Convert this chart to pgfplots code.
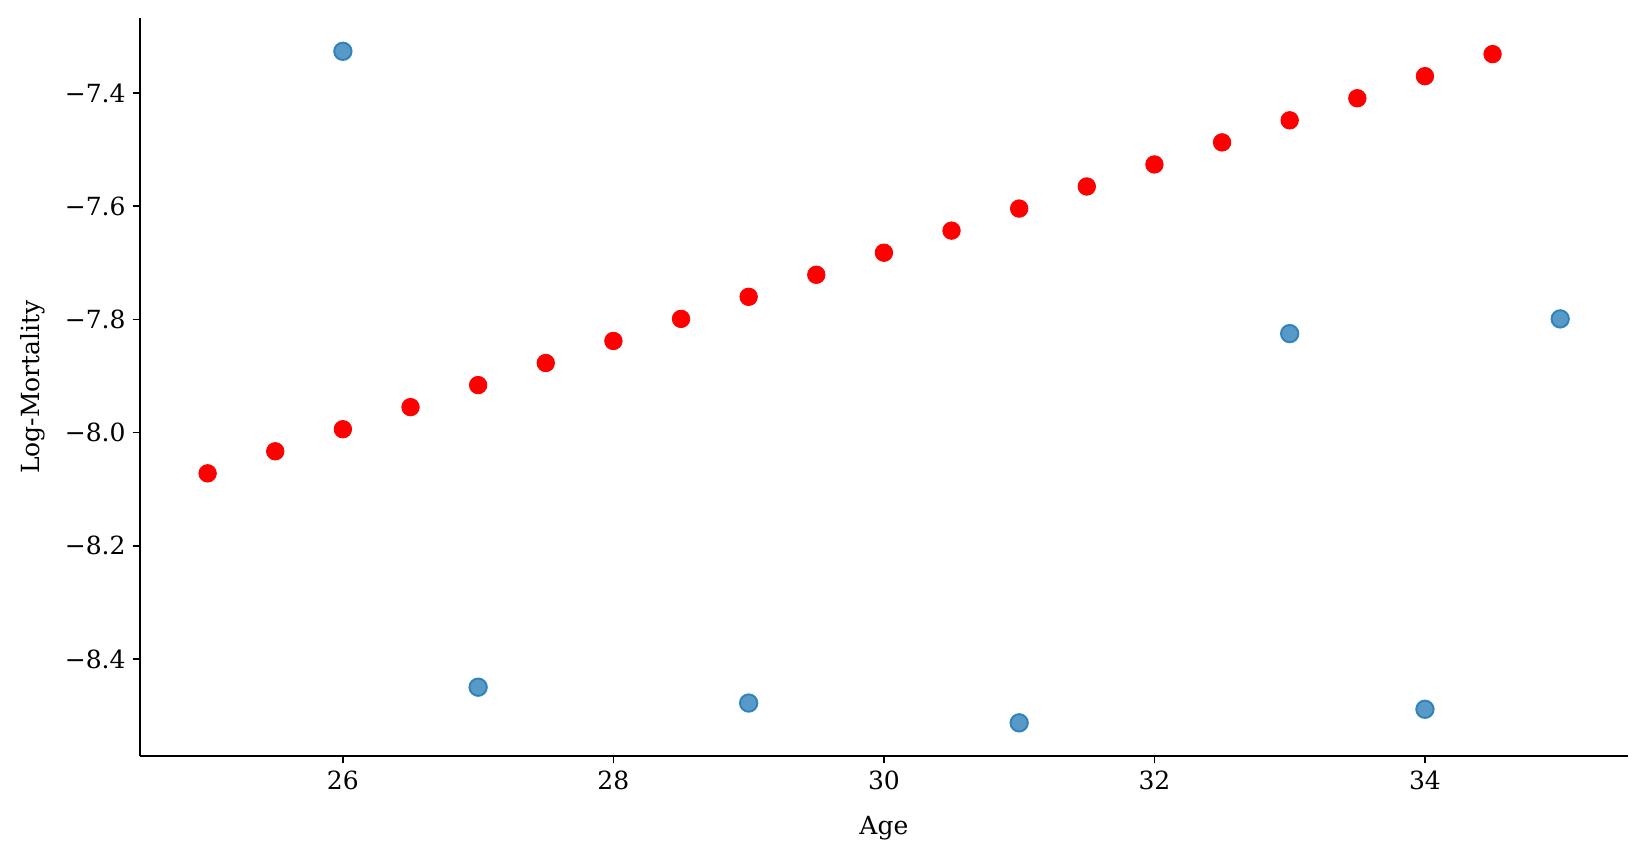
\documentclass[border=0pt]{standalone}
\usepackage{pgfplots}
\pgfplotsset{compat=1.18}
\usepackage{fontspec}
\setmainfont{DejaVu Serif}
\definecolor{mplblue}{HTML}{1F77B4}
\begin{document}
\begin{tikzpicture}
\begin{axis}[
  scale only axis,
  width=714.2pt, height=354.4pt,
  xmin=24.5, xmax=35.5,
  ymin=-8.572, ymax=-7.267,
  axis x line*=bottom, axis y line*=left,
  axis line style={line width=0.8pt, -},
  xtick={26,28,30,32,34},
  ytick={-8.4,-8.2,-8.0,-7.8,-7.6,-7.4},
  yticklabels={−8.4,−8.2,−8.0,−7.8,−7.6,−7.4},
  tick align=outside,
  major tick length=3.4pt,
  tick style={line width=0.8pt, black},
  /pgf/number format/assume math mode=true,
  ticklabel style={font=\fontsize{12pt}{14pt}\selectfont},
  label style={font=\fontsize{12pt}{14pt}\selectfont},
  xlabel={Age}, ylabel={Log-Mortality},
  xlabel style={at={(rel axis cs:0.5,0)}, anchor=center, yshift=-34.5pt},
  ylabel style={at={(rel axis cs:0,0.5)}, anchor=center, yshift=51.5pt},
  clip=false,
]
\addplot[only marks, mark=*, mark size=4.2pt, color=red, mark options={draw=red, fill=red}] coordinates {
(25,-8.072) (25.5,-8.033) (26,-7.994) (26.5,-7.955) (27,-7.916) (27.5,-7.877)
(28,-7.838) (28.5,-7.799) (29,-7.760) (29.5,-7.721) (30,-7.682) (30.5,-7.643)
(31,-7.604) (31.5,-7.565) (32,-7.526) (32.5,-7.487) (33,-7.448) (33.5,-7.409)
(34,-7.370) (34.5,-7.331)
};
\addplot[only marks, mark=*, mark size=4.2pt, color=mplblue, mark options={draw=mplblue, fill=mplblue, fill opacity=0.75, draw opacity=0.85, line width=0.9pt}] coordinates {
(26,-7.326) (27,-8.450) (29,-8.478) (31,-8.513) (33,-7.825) (34,-8.489) (35,-7.799)
};
\end{axis}
\pgfresetboundingbox
\path (-67.2pt,-49.8pt) rectangle (723.4pt,363.0pt);
\end{tikzpicture}
\end{document}
